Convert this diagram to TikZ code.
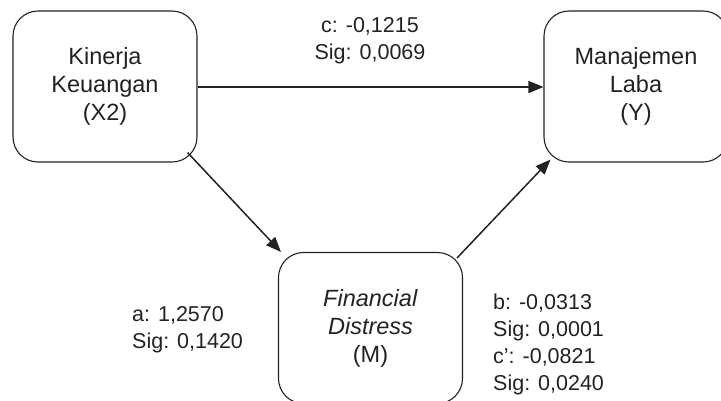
\documentclass[tikz,border=0pt]{standalone}
\usepackage{fontspec}
\setmainfont{Liberation Sans}
\usetikzlibrary{arrows.meta,calc}
\definecolor{ink}{HTML}{222222}
\tikzset{
  varbox/.style={draw=ink, line width=1.1pt, rounded corners=25pt, minimum width=184pt, minimum height=151pt, align=center, text=ink, font=\fontsize{23.5}{28}\selectfont, inner sep=0pt},
  lbl/.style={text=ink, font=\fontsize{21.5}{27}\selectfont, inner sep=0pt},
  conn/.style={draw=ink, line width=1.5pt, -{Triangle[length=15pt,width=12pt]}}
}
\begin{document}
\begin{tikzpicture}[x=1pt,y=-1pt]
\useasboundingbox (0,0) rectangle (721,400);
\node[varbox] (kx) at (105,86.5) {Kinerja\\Keuangan\\(X2)};
\node[varbox] (ml) at (636,86.5) {Manajemen\\Laba\\(Y)};
\node[varbox] (fd) at (370.5,328) {\textit{Financial}\\\textit{Distress}\\(M)};
\draw[conn] ($(kx.east)+(0,0.5)$) -- ($(ml.west)+(0,0.5)$);
\draw[conn] ($(kx.south east)+(-10,-10)$) -- ($(fd.north west)+(3,0)$);
\draw[conn] ($(fd.north east)+(-6,6)$) -- ($(ml.south west)+(7,-3)$);
\node[lbl, align=center, anchor=base] (lc) at (370,59) {c: -0,1215\\Sig: 0,0069};
\node[lbl, align=left, anchor=base west] (la) at (132,348) {a: 1,2570\\Sig: 0,1420};
\node[lbl, align=left, anchor=base west] (lb) at (493,390) {b: -0,0313\\Sig: 0,0001\\c’: -0,0821\\Sig: 0,0240};
\end{tikzpicture}
\end{document}
